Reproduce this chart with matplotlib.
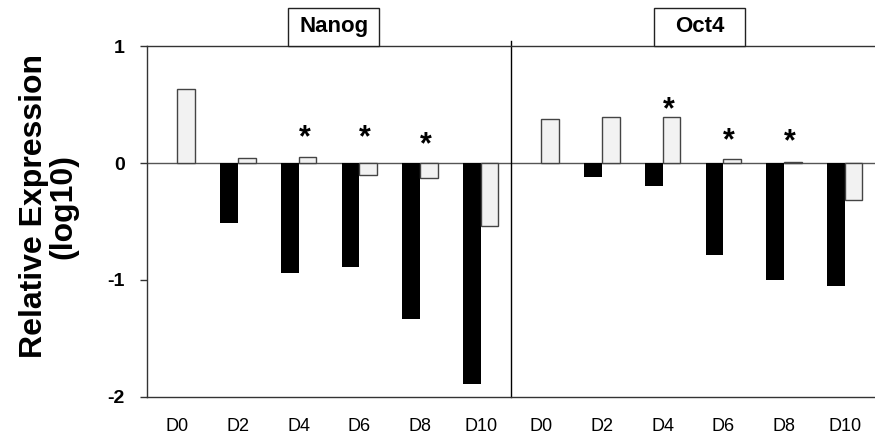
import numpy as np
import matplotlib
matplotlib.use("Agg")
import matplotlib.pyplot as plt
from matplotlib.patches import Rectangle

plt.rcParams['font.family'] = ['Liberation Sans', 'DejaVu Sans']

days = ["D0", "D2", "D4", "D6", "D8", "D10"]
genes = ["Nanog", "Oct4"]

# black series / light grey series, per gene
nanog_black = [0.0, -0.51, -0.94, -0.89, -1.33, -1.89]
nanog_grey = [0.63, 0.04, 0.05, -0.10, -0.13, -0.535]
oct4_black = [0.0, -0.12, -0.20, -0.79, -1.00, -1.05]
oct4_grey = [0.38, 0.39, 0.39, 0.035, 0.008, -0.32]

# significance marks: (category index, height)
star_idx = [2, 3, 4, 8, 9, 10]
star_y = [0.21, 0.21, 0.15, 0.45, 0.19, 0.18]

black_vals = nanog_black + oct4_black
grey_vals = nanog_grey + oct4_grey
labels = days + days
x = np.arange(len(labels))
w = 0.29

fig = plt.figure(figsize=(8.75, 4.47), dpi=100)
ax = fig.add_axes([0.168, 0.112, 0.832, 0.785])

ax.bar(x - w / 2, black_vals, width=w, color="black", linewidth=0)
ax.bar(x + w / 2, grey_vals, width=w, color="#f2f2f2", edgecolor="#444444", linewidth=1.0)

for i, yv in zip(star_idx, star_y):
    ax.text(x[i] + w / 2 - 0.05, yv, "*", ha="center", va="center",
            fontsize=22, fontweight="bold")

ax.axhline(0, color="#555555", lw=1.0, zorder=0.5)
ax.plot([5.5, 5.5], [-2, 1.04], color="black", lw=1.0, clip_on=False)

ax.set_xlim(-0.5, 11.5)
ax.set_ylim(-2, 1)
ax.set_yticks([1, 0, -1, -2])
ax.set_yticklabels(["1", "0", "-1", "-2"], fontweight="bold", fontsize=14)
ax.set_xticks(x)
ax.set_xticklabels(labels, fontsize=13)
ax.tick_params(axis="x", length=0, pad=15)
ax.tick_params(axis="y", length=5, width=1, pad=11, color="#333333")

for s in ["left", "top", "bottom"]:
    ax.spines[s].set_color("#333333")
    ax.spines[s].set_linewidth(1.0)
ax.spines["right"].set_visible(False)

ax.set_ylabel("Relative Expression\n(log10)", fontsize=23, fontweight="bold",
              linespacing=1.0)
ax.yaxis.set_label_coords(-0.094, 0.544)

# gene title boxes sitting on the top line
for cx, g in zip([2.58, 8.61], genes):
    ax.add_patch(Rectangle((cx - 0.75, 1.0), 1.5, 0.325, fc="white", ec="#222222",
                           lw=1.0, clip_on=False, zorder=3))
    ax.text(cx, 1.163, g, ha="center", va="center", fontsize=16,
            fontweight="bold", clip_on=False, zorder=4)

fig.savefig("out.png", dpi=100)
